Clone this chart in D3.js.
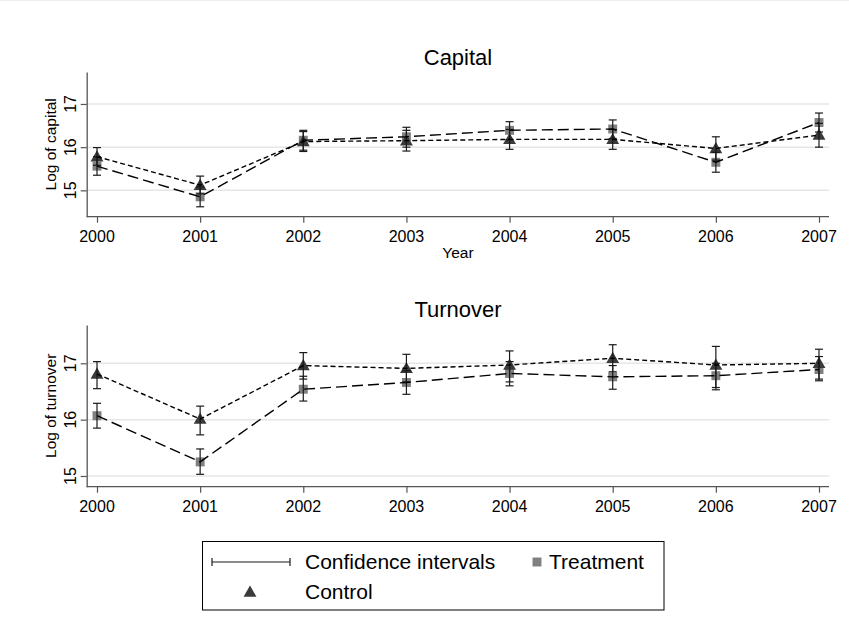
<!DOCTYPE html>
<html><head><meta charset="utf-8">
<script src="https://cdn.jsdelivr.net/npm/d3@7"></script>
<style>body{margin:0;background:#fff;} text{font-family:"Liberation Sans",Arial,sans-serif;fill:#000;}</style>
</head><body>
<svg id="c" width="849" height="622"></svg>
<script>
const years = [2000, 2001, 2002, 2003, 2004, 2005, 2006, 2007];
const yTicks = [15, 16, 17];
// Capital
const capTreat = [15.56, 14.85, 16.16, 16.24, 16.39, 16.42, 15.65, 16.57];
const capTreatLo = [15.35, 14.62, 15.93, 16.00, 16.17, 16.20, 15.42, 16.35];
const capTreatHi = [15.78, 15.08, 16.39, 16.46, 16.59, 16.63, 15.88, 16.79];
const capCtrl = [15.78, 15.12, 16.13, 16.15, 16.18, 16.18, 15.97, 16.28];
const capCtrlLo = [15.58, 14.92, 15.90, 15.91, 15.95, 15.95, 15.70, 16.00];
const capCtrlHi = [15.99, 15.33, 16.36, 16.39, 16.41, 16.41, 16.24, 16.55];
// Turnover
const turnTreat = [16.07, 15.25, 16.54, 16.66, 16.82, 16.76, 16.78, 16.89];
const turnTreatLo = [15.85, 15.03, 16.33, 16.45, 16.60, 16.54, 16.53, 16.69];
const turnTreatHi = [16.29, 15.48, 16.77, 16.87, 17.03, 16.96, 17.00, 17.12];
const turnCtrl = [16.81, 16.01, 16.96, 16.91, 16.97, 17.09, 16.97, 17.00];
const turnCtrlLo = [16.55, 15.73, 16.72, 16.67, 16.67, 16.85, 16.57, 16.72];
const turnCtrlHi = [17.03, 16.24, 17.19, 17.16, 17.22, 17.33, 17.30, 17.25];

const svg = d3.select("#c");
svg.append("line").attr("x1",0).attr("x2",849).attr("y1",0.5).attr("y2",0.5).attr("stroke","#eee");

const x = d3.scaleLinear().domain([2000, 2007]).range([97, 819]);
const xL = 86.7, xR = 829;

function panel(opt) {
  const y = d3.scaleLinear().domain(opt.domain).range([opt.bottom, opt.top]);
  const g = svg.append("g");
  g.selectAll(".grid").data(yTicks).enter().append("line")
    .attr("x1", xL).attr("x2", xR).attr("y1", d => y(d)).attr("y2", d => y(d))
    .attr("stroke", "#e6e6e6").attr("stroke-width", 1.5);
  const ya = g.append("g").attr("transform", `translate(${xL},0)`)
    .call(d3.axisLeft(y).tickValues(yTicks).tickSize(6).tickSizeOuter(0).tickFormat(""));
  ya.select(".domain").attr("stroke", "#555").attr("stroke-width", 1.3);
  ya.selectAll(".tick line").attr("stroke", "#555").attr("stroke-width", 1.2);
  g.selectAll(".ylab").data(yTicks).enter().append("text")
    .attr("transform", d => `translate(75.5,${y(d)}) rotate(-90)`)
    .attr("text-anchor", "middle").style("font-size", "16px").text(d => d);
  const xa = g.append("g").attr("transform", `translate(0,${opt.bottom})`)
    .call(d3.axisBottom(x).tickValues(years).tickSize(6).tickSizeOuter(0).tickFormat(""));
  xa.select(".domain").attr("stroke", "#555").attr("stroke-width", 1.3).attr("d", `M${xL},0H${xR}`);
  xa.selectAll(".tick line").attr("stroke", "#555").attr("stroke-width", 1.2);
  g.selectAll(".xlab").data(years).enter().append("text")
    .attr("x", d => x(d)).attr("y", opt.bottom + 25)
    .attr("text-anchor", "middle").style("font-size", "16px").text(d => d);
  g.append("text").attr("x", 458).attr("y", opt.titleY).attr("text-anchor", "middle")
    .style("font-size", "22px").text(opt.title);
  g.append("text").attr("transform", `translate(56,${(opt.top + opt.bottom) / 2}) rotate(-90)`)
    .attr("text-anchor", "middle").style("font-size", "15.5px").text(opt.ylabel);
  if (opt.xlabel) g.append("text").attr("x", 458).attr("y", opt.bottom + 41)
    .attr("text-anchor", "middle").style("font-size", "15.5px").text(opt.xlabel);

  const sq = d3.symbol().type(d3.symbolSquare).size(80);
  const tri = d3.symbol().type(d3.symbolTriangle).size(72);
  g.selectAll(".sq").data(years).enter().append("path")
    .attr("d", sq).attr("transform", (d, i) => `translate(${x(d)},${y(opt.treat[i])})`).attr("fill", "#808080");
  g.selectAll(".tr").data(years).enter().append("path")
    .attr("d", tri).attr("transform", (d, i) => `translate(${x(d)},${y(opt.ctrl[i]) + 1})`).attr("fill", "#3a3a3a");
  function ci(lo, hi) {
    const cg = g.append("g").attr("stroke", "#1a1a1a").attr("stroke-width", 1.2);
    years.forEach((d, i) => {
      const cx = x(d);
      cg.append("line").attr("x1", cx).attr("x2", cx).attr("y1", y(lo[i])).attr("y2", y(hi[i]));
      cg.append("line").attr("x1", cx - 4).attr("x2", cx + 4).attr("y1", y(lo[i])).attr("y2", y(lo[i]));
      cg.append("line").attr("x1", cx - 4).attr("x2", cx + 4).attr("y1", y(hi[i])).attr("y2", y(hi[i]));
    });
  }
  ci(opt.treatLo, opt.treatHi);
  ci(opt.ctrlLo, opt.ctrlHi);
  const line = vals => d3.line().x((d, i) => x(d)).y((d, i) => y(vals[i]))(years);
  g.append("path").attr("d", line(opt.treat)).attr("fill", "none").attr("stroke", "#000")
    .attr("stroke-width", 1.4).attr("stroke-dasharray", "11,5");
  g.append("path").attr("d", line(opt.ctrl)).attr("fill", "none").attr("stroke", "#000")
    .attr("stroke-width", 1.4).attr("stroke-dasharray", "5,3");
}

panel({ domain: [14.39, 17.74], top: 72, bottom: 216.7, title: "Capital", titleY: 65,
  ylabel: "Log of capital", xlabel: "Year",
  treat: capTreat, treatLo: capTreatLo, treatHi: capTreatHi,
  ctrl: capCtrl, ctrlLo: capCtrlLo, ctrlHi: capCtrlHi });
panel({ domain: [14.81, 17.68], top: 325, bottom: 486.7, title: "Turnover", titleY: 317,
  ylabel: "Log of turnover", xlabel: null,
  treat: turnTreat, treatLo: turnTreatLo, treatHi: turnTreatHi,
  ctrl: turnCtrl, ctrlLo: turnCtrlLo, ctrlHi: turnCtrlHi });

const legendLabels = ["Confidence intervals", "Treatment", "Control"];
const lg = svg.append("g");
lg.append("rect").attr("x", 202.5).attr("y", 541.5).attr("width", 461.5).attr("height", 68.5)
  .attr("fill", "#fff").attr("stroke", "#000").attr("stroke-width", 1);
lg.append("line").attr("x1", 212).attr("x2", 290).attr("y1", 562).attr("y2", 562).attr("stroke", "#1a1a1a").attr("stroke-width", 1.2);
lg.append("line").attr("x1", 212).attr("x2", 212).attr("y1", 558).attr("y2", 566).attr("stroke", "#1a1a1a").attr("stroke-width", 1.2);
lg.append("line").attr("x1", 290).attr("x2", 290).attr("y1", 558).attr("y2", 566).attr("stroke", "#1a1a1a").attr("stroke-width", 1.2);
lg.append("text").attr("x", 305).attr("y", 569).style("font-size", "21px").text(legendLabels[0]);
lg.append("path").attr("d", d3.symbol().type(d3.symbolSquare).size(80)).attr("transform", "translate(537,562)").attr("fill", "#808080");
lg.append("text").attr("x", 549).attr("y", 569).style("font-size", "21px").text(legendLabels[1]);
lg.append("path").attr("d", d3.symbol().type(d3.symbolTriangle).size(72)).attr("transform", "translate(250,593)").attr("fill", "#3a3a3a");
lg.append("text").attr("x", 305).attr("y", 599).style("font-size", "21px").text(legendLabels[2]);
</script>
</body></html>
